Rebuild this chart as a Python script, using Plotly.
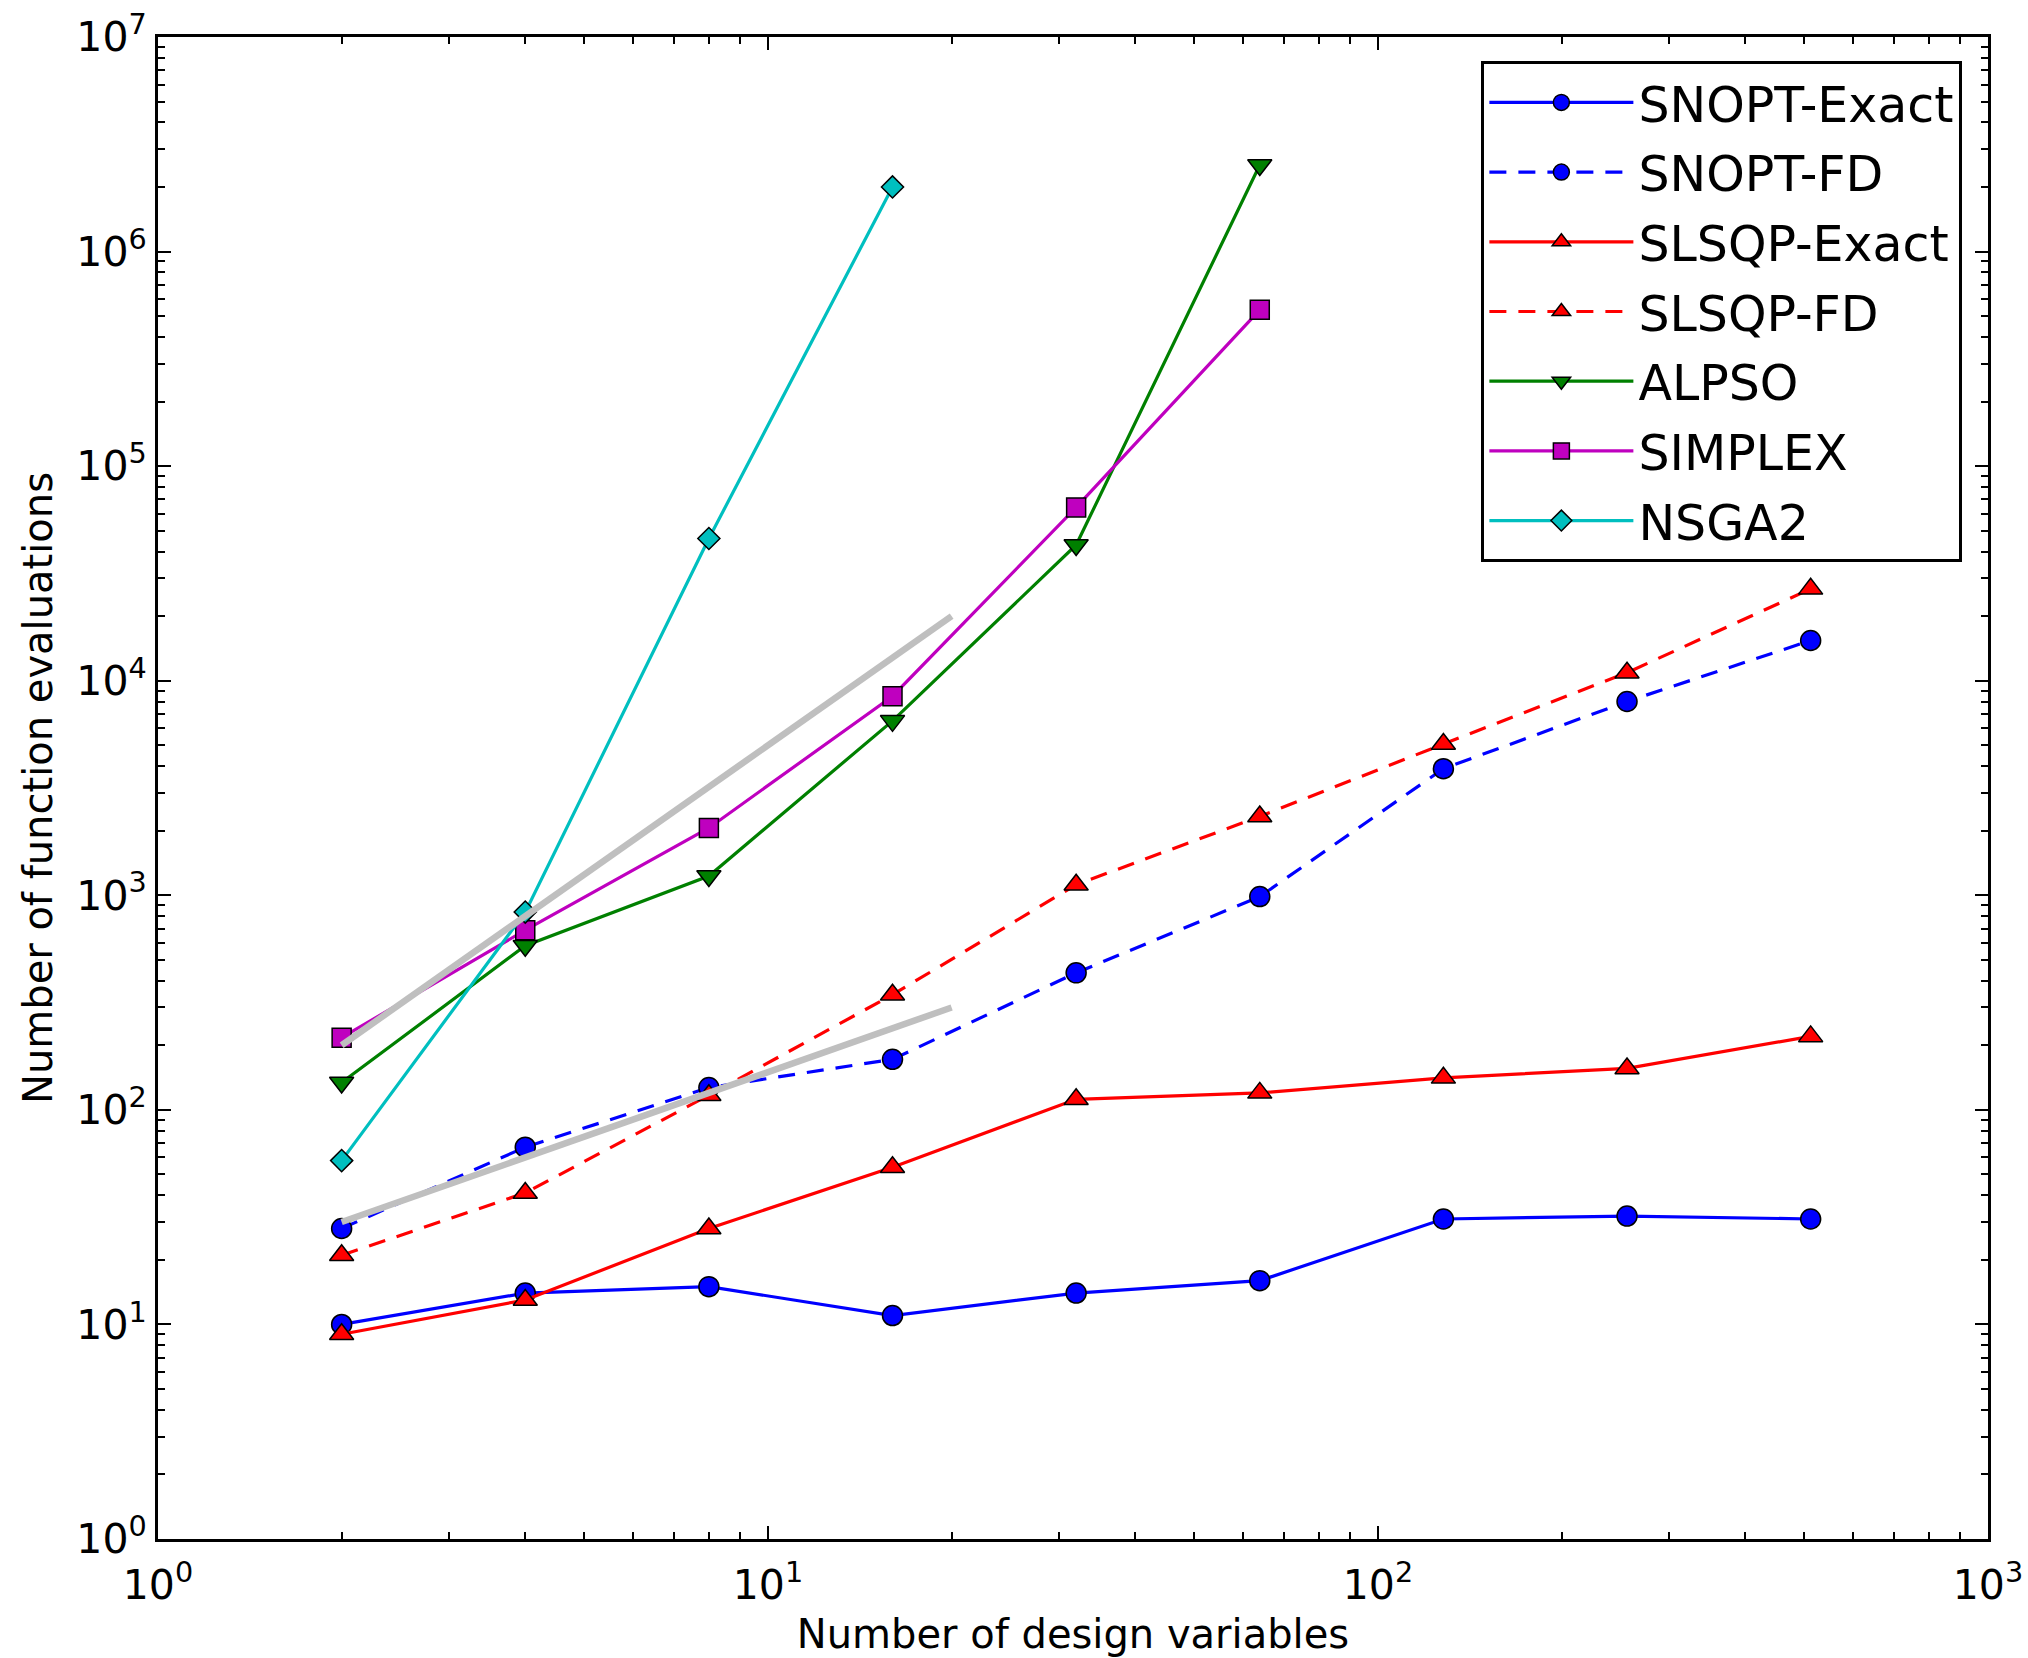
import plotly.graph_objects as go

# ---- data ----
n_vars = [2, 4, 8, 16, 32, 64, 128, 256, 512]
n_vars_short = [2, 4, 8, 16, 32, 64]
n_vars_nsga = [2, 4, 8, 16]

snopt_exact = [10, 14, 15, 11, 14, 16, 31, 32, 31]
snopt_fd = [28, 67, 127, 172, 435, 986, 3890, 8000, 15400]
slsqp_exact = [9, 13, 28, 54, 112, 120, 141, 156, 220]
slsqp_fd = [21, 41, 117, 344, 1120, 2330, 5070, 10900, 26800]
alpso = [134, 582, 1230, 6500, 42900, 2530000]
simplex = [217, 688, 2060, 8470, 64200, 535000]
nsga2 = [58, 835, 46000, 2000000]

ref_x = [2, 20]
ref_quadratic = [200, 20000]
ref_linear = [30, 300]

x_tickvals = [1, 10, 100, 1000]
x_ticktext = ["10<sup>0</sup>", "10<sup>1</sup>", "10<sup>2</sup>", "10<sup>3</sup>"]
y_tickvals = [1, 10, 100, 1000, 10000, 100000, 1000000, 10000000]
y_ticktext = ["10<sup>%d</sup>" % i for i in range(8)]

FONT = "DejaVu Sans"
LW = 3.2
DASH = "17px,12px"
SIZES = {"circle": 20, "triangle-up": 21, "triangle-down": 21, "square": 19, "diamond": 17}

series = [
    ("SNOPT-Exact", n_vars, snopt_exact, "#0000ff", "circle", "solid"),
    ("SNOPT-FD", n_vars, snopt_fd, "#0000ff", "circle", DASH),
    ("SLSQP-Exact", n_vars, slsqp_exact, "#ff0000", "triangle-up", "solid"),
    ("SLSQP-FD", n_vars, slsqp_fd, "#ff0000", "triangle-up", DASH),
    ("ALPSO", n_vars_short, alpso, "#008000", "triangle-down", "solid"),
    ("SIMPLEX", n_vars_short, simplex, "#bf00bf", "square", "solid"),
    ("NSGA2", n_vars_nsga, nsga2, "#00bfbf", "diamond", "solid"),
]

fig = go.Figure()
for name, xs, ys, color, sym, dash in series:
    fig.add_trace(go.Scatter(
        x=xs, y=ys, name=name, mode="lines+markers", legendgroup=name,
        line=dict(color=color, width=LW, dash=dash),
        marker=dict(symbol=sym, size=SIZES[sym],
                    color=color, line=dict(color="black", width=1.5)),
    ))

for ys in (ref_quadratic, ref_linear):
    fig.add_trace(go.Scatter(
        x=ref_x, y=ys, mode="lines", showlegend=False, hoverinfo="skip",
        line=dict(color="#bfbfbf", width=6.5),
    ))

minor_vals = []
for d in [1, 10, 100, 1000, 10000, 100000, 1000000]:
    for k in range(2, 10):
        minor_vals.append(d * k)

axis_common = dict(
    type="log",
    showgrid=False,
    zeroline=False,
    showline=True,
    linecolor="black",
    linewidth=3,
    mirror="allticks",
    ticks="inside",
    ticklen=13,
    tickwidth=2,
    tickcolor="black",
    tickfont=dict(family=FONT, size=41, color="black"),
)

fig.update_xaxes(
    **axis_common,
    range=[0, 3],
    tickvals=x_tickvals,
    ticktext=x_ticktext,
    minor=dict(ticks="inside", ticklen=7, tickwidth=1.5, tickcolor="black",
               tickvals=[v for v in minor_vals if v < 1000], showgrid=False),
    title=dict(text="Number of design variables",
               font=dict(family=FONT, size=40, color="black"), standoff=12),
    ticklabelstandoff=8,
)
fig.update_yaxes(
    **axis_common,
    range=[0, 7],
    tickvals=y_tickvals,
    ticktext=y_ticktext,
    minor=dict(ticks="inside", ticklen=7, tickwidth=1.5, tickcolor="black",
               tickvals=minor_vals, showgrid=False),
    title=dict(text="Number of function evaluations",
               font=dict(family=FONT, size=40, color="black"), standoff=12),
    ticklabelstandoff=0,
)

fig.update_layout(
    width=2028, height=1658,
    margin=dict(l=158, r=40, t=37, b=119, autoexpand=False),
    paper_bgcolor="white",
    plot_bgcolor="white",
    font=dict(family=FONT, color="black"),
    showlegend=True,
    legend=dict(
        x=0.986, y=0.984, xanchor="right", yanchor="top",
        bgcolor="white", bordercolor="black", borderwidth=3,
        font=dict(family=FONT, size=49, color="black"),
        itemwidth=144,
        tracegroupgap=3,
    ),
)

fig.write_html("out.html")
